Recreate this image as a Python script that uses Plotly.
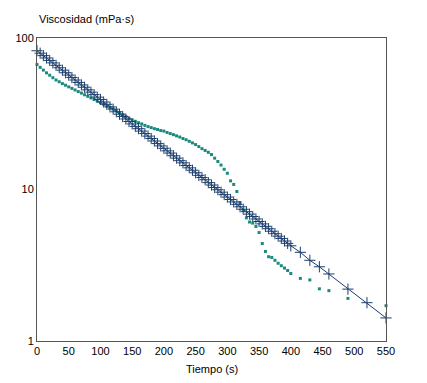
import plotly.graph_objects as go

# Series A (dark, line + cross markers): time (s) and viscosity (mPa·s)
t_a = list(range(0, 401, 5)) + [415, 430, 445, 460, 490, 520, 550]
visc_a = [82.4, 79.4, 76.5, 73.8, 71.1, 68.5, 66.0, 63.6, 61.3, 59.0,
          56.9, 54.8, 52.8, 50.9, 49.0, 47.3, 45.5, 43.9, 42.3, 40.7,
          39.3, 37.8, 36.5, 35.1, 33.9, 32.6, 31.4, 30.3, 29.2, 28.1,
          27.1, 26.1, 25.2, 24.3, 23.4, 22.5, 21.7, 20.9, 20.1, 19.4,
          18.7, 18.0, 17.4, 16.7, 16.1, 15.5, 15.0, 14.4, 13.9, 13.4,
          12.9, 12.4, 12.0, 11.6, 11.1, 10.7, 10.3, 9.96, 9.60, 9.25,
          8.91, 8.59, 8.28, 7.98, 7.69, 7.40, 7.14, 6.88, 6.63, 6.39,
          6.15, 5.93, 5.71, 5.51, 5.30, 5.11, 4.92, 4.75, 4.57, 4.41,
          4.25,
          3.85, 3.41, 3.09, 2.77, 2.20, 1.79, 1.42]

# Series B (teal, square markers only)
t_b = list(range(0, 401, 5)) + [415, 430, 445, 460, 490, 550]
visc_b = [66.8, 64.0, 61.4, 58.9, 56.8, 54.7, 52.8, 51.4, 50.0, 48.8,
          47.6, 46.5, 45.4, 44.3, 43.3, 42.2, 41.2, 40.2, 39.3, 38.3,
          37.4, 36.5, 35.6, 34.8, 34.0, 33.1, 32.1, 31.2, 30.3, 29.4,
          28.8, 28.2, 27.6, 27.1, 26.5, 26.0, 25.6, 25.2, 24.9, 24.5,
          24.3, 23.8, 23.4, 23.0, 22.6, 22.2, 21.7, 21.3, 20.8, 20.3,
          19.8, 19.2, 18.6, 18.1, 17.6, 17.0, 16.1, 15.3, 14.5, 13.6,
          12.8, 11.4, 10.8, 9.7, 8.2, 7.3, 6.5, 6.1, 6.0, 5.7,
          5.2, 4.4, 3.9, 3.6, 3.56, 3.41, 3.26, 3.14, 3.03, 2.92,
          2.79,
          2.59, 2.53, 2.21, 2.15, 1.91, 1.71]

x_ticks = [0, 50, 100, 150, 200, 250, 300, 350, 400, 450, 500, 550]
y_ticks = [1, 10, 100]
y_tick_labels = ["1", "10", "100"]

font = dict(family="Liberation Sans, Arial, sans-serif", size=11, color="#000000")

fig = go.Figure()
fig.add_trace(go.Scatter(
    x=t_b, y=visc_b, mode="markers",
    marker=dict(symbol="square", size=3, color="#1b8a7e", line=dict(width=0)),
    showlegend=False, cliponaxis=False,
))
fig.add_trace(go.Scatter(
    x=t_a, y=visc_a, mode="lines+markers",
    line=dict(color="#1a3d6d", width=1),
    marker=dict(symbol="cross-thin-open", size=8, color="#1a3d6d",
                line=dict(width=1, color="#1a3d6d")),
    showlegend=False, cliponaxis=False,
))

fig.update_layout(
    width=427, height=383,
    margin=dict(l=37, r=41, t=38, b=42, autoexpand=False),
    paper_bgcolor="white", plot_bgcolor="white",
    font=font,
    xaxis=dict(range=[0, 550], tickvals=x_ticks, ticks="", showgrid=False,
               zeroline=False, showline=True, linecolor="#555555", linewidth=1,
               mirror=True, tickfont=font, automargin=False),
    yaxis=dict(type="log", range=[0, 2], tickvals=y_ticks, ticktext=y_tick_labels,
               ticks="", showgrid=False, zeroline=False, showline=True,
               linecolor="#555555", linewidth=1, mirror=True, tickfont=font,
               automargin=False),
    annotations=[
        dict(text="Viscosidad (mPa·s)", xref="paper", yref="paper", x=0.0, y=1.063,
             xanchor="left", yanchor="middle", showarrow=False, font=font),
        dict(text="Tiempo (s)", xref="paper", yref="paper", x=0.5, y=-0.092,
             xanchor="center", yanchor="middle", showarrow=False, font=font),
    ],
)

fig.write_html("out.html", config={"displayModeBar": False},
               post_script="document.body.style.margin='0px';")
